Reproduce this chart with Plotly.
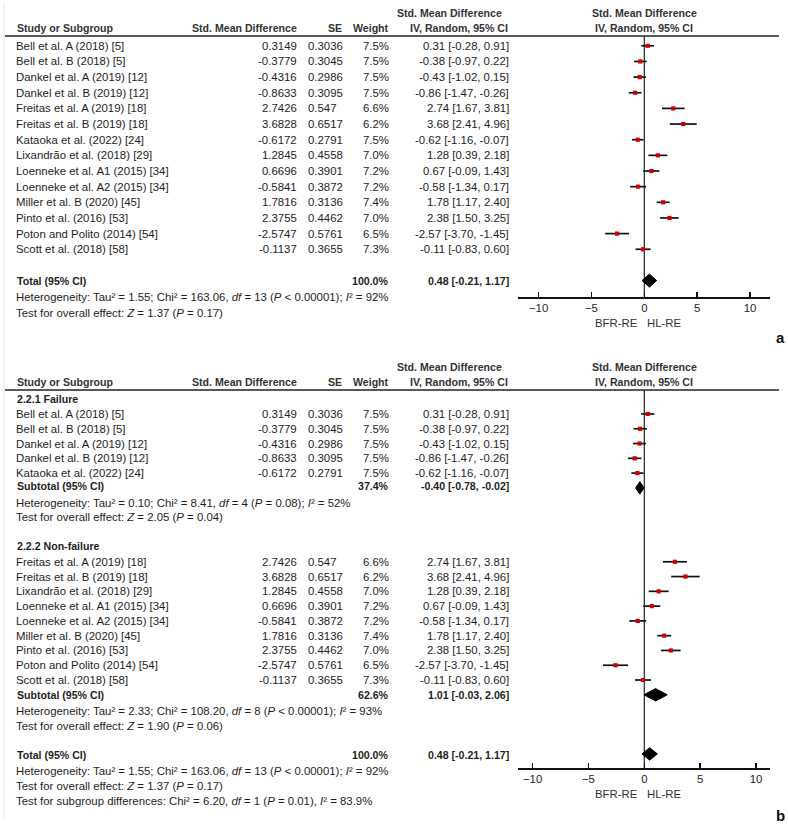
import plotly.graph_objects as go

W, H = 788, 824
FONT = "Liberation Sans, Arial, sans-serif"
FS = 11.4
FS_H = 10.6
TXT = "#1e1e1e"
HDR = "#333333"

# ---------------- data ----------------
studies = ["Bell et al. A (2018) [5]", "Bell et al. B (2018) [5]", "Dankel et al. A (2019) [12]",
           "Dankel et al. B (2019) [12]", "Freitas et al. A (2019) [18]", "Freitas et al. B (2019) [18]",
           "Kataoka et al. (2022) [24]", "Lixandrão et al. (2018) [29]", "Loenneke et al. A1 (2015) [34]",
           "Loenneke et al. A2 (2015) [34]", "Miller et al. B (2020) [45]", "Pinto et al. (2016) [53]",
           "Poton and Polito (2014) [54]", "Scott et al. (2018) [58]"]
smd = [0.3149, -0.3779, -0.4316, -0.8633, 2.7426, 3.6828, -0.6172, 1.2845, 0.6696, -0.5841,
       1.7816, 2.3755, -2.5747, -0.1137]
se = [0.3036, 0.3045, 0.2986, 0.3095, 0.547, 0.6517, 0.2791, 0.4558, 0.3901, 0.3872,
      0.3136, 0.4462, 0.5761, 0.3655]
weight = [7.5, 7.5, 7.5, 7.5, 6.6, 6.2, 7.5, 7.0, 7.2, 7.2, 7.4, 7.0, 6.5, 7.3]
ci_lo = [-0.28, -0.97, -1.02, -1.47, 1.67, 2.41, -1.16, 0.39, -0.09, -1.34, 1.17, 1.50, -3.70, -0.83]
ci_hi = [0.91, 0.22, 0.15, -0.26, 3.81, 4.96, -0.07, 2.18, 1.43, 0.17, 2.40, 3.25, -1.45, 0.60]

failure_idx = [0, 1, 2, 3, 6]
nonfailure_idx = [4, 5, 7, 8, 9, 10, 11, 12, 13]

# pooled: (estimate, lower, upper, weight)
total = (0.48, -0.21, 1.17, 100.0)
sub_failure = (-0.40, -0.78, -0.02, 37.4)
sub_nonfailure = (1.01, -0.03, 2.06, 62.6)

het_total = "Heterogeneity: Tau² = 1.55; Chi² = 163.06, <i>df</i> = 13 (<i>P</i> < 0.00001); <i>I</i>² = 92%"
eff_total = "Test for overall effect: <i>Z</i> = 1.37 (<i>P</i> = 0.17)"
het_fail = "Heterogeneity: Tau² = 0.10; Chi² = 8.41, <i>df</i> = 4 (<i>P</i> = 0.08); <i>I</i>² = 52%"
eff_fail = "Test for overall effect: <i>Z</i> = 2.05 (<i>P</i> = 0.04)"
het_nonf = "Heterogeneity: Tau² = 2.33; Chi² = 108.20, <i>df</i> = 8 (<i>P</i> < 0.00001); <i>I</i>² = 93%"
eff_nonf = "Test for overall effect: <i>Z</i> = 1.90 (<i>P</i> = 0.06)"
subgroup_diff = "Test for subgroup differences: Chi² = 6.20, <i>df</i> = 1 (<i>P</i> = 0.01), <i>I</i>² = 83.9%"
group_names = ["2.2.1 Failure", "2.2.2 Non-failure"]
tick_vals = [-10, -5, 0, 5, 10]
favours = ("BFR-RE", "HL-RE")

# ---------------- layout helpers ----------------
X_STUDY, X_SMD, X_SE, X_W, X_CI = 16, 297, 307.5, 389, 509
X_SE_H = 342
X_PLOT0, X_PLOT1, X_ZERO = 518, 770, 644.3

def py_a(i):
    return 45.8 + 15.65 * i

def py_b(i):
    return 399.2 + 14.78 * i

ann = []

def txt(x, py, s, anchor="left", bold=False, color=TXT, size=FS):
    if bold:
        s = "<b>" + s + "</b>"
    ann.append(dict(x=x / W, y=1 - py / H, xref="paper", yref="paper", text=s, showarrow=False,
                    xanchor=anchor, yanchor="middle", borderpad=0, borderwidth=0,
                    font=dict(family=FONT, size=size, color=color)))

def ci_str(e, lo, hi):
    return f"{e:.2f} [{lo:.2f}, {hi:.2f}]"

def header(line_py):
    txt(449.5, line_py - 23, "Std. Mean Difference", "center", True, HDR, FS_H)
    txt(459, line_py - 8, "IV, Random, 95% CI", "center", True, HDR, FS_H)
    txt(X_ZERO, line_py - 23, "Std. Mean Difference", "center", True, HDR, FS_H)
    txt(X_ZERO, line_py - 8, "IV, Random, 95% CI", "center", True, HDR, FS_H)
    txt(X_STUDY + 1, line_py - 8, "Study or Subgroup", "left", True, HDR, FS_H)
    txt(X_SMD, line_py - 8, "Std. Mean Difference", "right", True, HDR, FS_H)
    txt(X_SE_H, line_py - 8, "SE", "right", True, HDR, FS_H)
    txt(X_W, line_py - 8, "Weight", "right", True, HDR, FS_H)

def study_row(py, k):
    txt(X_STUDY, py, studies[k])
    txt(X_SMD, py, f"{smd[k]:.4f}", "right")
    txt(X_SE, py, f"{se[k]:g}", "left")
    txt(X_W, py, f"{weight[k]:.1f}%", "right")
    txt(X_CI, py, ci_str(smd[k], ci_lo[k], ci_hi[k]), "right")

def pooled_row(py, label, pooled):
    txt(X_STUDY + 1, py, label, "left", True, TXT, FS_H)
    txt(X_W, py, f"{pooled[3]:.1f}%", "right", True, TXT, FS_H)
    txt(X_CI, py, ci_str(*pooled[:3]), "right", True, TXT, FS_H)

fig = go.Figure()

def forest(xa, ya, rows, idx, diamonds, half_h):
    fig.add_trace(go.Scatter(
        x=[smd[k] for k in idx], y=rows, mode="markers", xaxis=xa, yaxis=ya,
        marker=dict(symbol="square", size=4.2, color="#d00000", line=dict(width=0)),
        error_x=dict(type="data", symmetric=False,
                     array=[ci_hi[k] - smd[k] for k in idx],
                     arrayminus=[smd[k] - ci_lo[k] for k in idx],
                     width=0, thickness=1.7, color="#111111"),
        showlegend=False, hoverinfo="skip"))
    for row, (e, lo, hi, _w) in diamonds:
        fig.add_trace(go.Scatter(
            x=[lo, e, hi, e, lo], y=[row, row - half_h, row, row + half_h, row],
            mode="lines", fill="toself", fillcolor="black", line=dict(color="black", width=1),
            xaxis=xa, yaxis=ya, showlegend=False, hoverinfo="skip"))

# ---------------- panel a ----------------
LINE_A, AXIS_A = 36, 297
header(LINE_A)
for k in range(len(studies)):
    study_row(py_a(k), k)
pooled_row(py_a(15), "Total (95% CI)", total)
txt(X_STUDY, py_a(16.05), het_total)
txt(X_STUDY, py_a(17.1), eff_total)
forest("x", "y", list(range(len(studies))), list(range(len(studies))), [(15, total)], 0.42)

# ---------------- panel b ----------------
LINE_B, AXIS_B = 390, 768
header(LINE_B)
txt(X_STUDY + 1, py_b(0), group_names[0], "left", True, TXT, FS_H)
for j, k in enumerate(failure_idx):
    study_row(py_b(1 + j), k)
pooled_row(py_b(5.85), "Subtotal (95% CI)", sub_failure)
txt(X_STUDY, py_b(7), het_fail)
txt(X_STUDY, py_b(8), eff_fail)
txt(X_STUDY + 1, py_b(9.95), group_names[1], "left", True, TXT, FS_H)
for j, k in enumerate(nonfailure_idx):
    study_row(py_b(11 + j), k)
pooled_row(py_b(20), "Subtotal (95% CI)", sub_nonfailure)
txt(X_STUDY, py_b(21.1), het_nonf)
txt(X_STUDY, py_b(22.1), eff_nonf)
pooled_row(py_b(24.1), "Total (95% CI)", total)
txt(X_STUDY, py_b(25.15), het_total)
txt(X_STUDY, py_b(26.15), eff_total)
txt(X_STUDY, py_b(27.2), subgroup_diff)
rows_b = [1 + j for j in range(len(failure_idx))] + [11 + j for j in range(len(nonfailure_idx))]
forest("x2", "y2", rows_b, failure_idx + nonfailure_idx,
       [(6, sub_failure), (20, sub_nonfailure), (24, total)], 0.42)

# favours labels & panel letters
for axis_py in (AXIS_A, AXIS_B):
    txt(X_ZERO - 6, axis_py + 26, favours[0], "right", False, HDR)
    txt(X_ZERO + 3, axis_py + 26, favours[1], "left", False, HDR)
txt(780, 338, "a", "center", True, "#111111", 15)
txt(780, 815, "b", "center", True, "#111111", 15)

def xaxis_cfg(rng):
    return dict(range=rng, domain=[X_PLOT0 / W, X_PLOT1 / W], tickvals=tick_vals,
                showline=True, linecolor="#111111", linewidth=1.5, ticks="inside", ticklen=5,
                tickwidth=1.5, tickcolor="#111111", showgrid=False, zeroline=False,
                tickfont=dict(family=FONT, size=FS, color=TXT), fixedrange=True)

def yaxis_cfg(rng, top_py, bot_py):
    return dict(range=rng, domain=[1 - bot_py / H, 1 - top_py / H], visible=False,
                showgrid=False, zeroline=False, fixedrange=True)

# row-index ranges so the plot area spans header line to axis line
ra = [(AXIS_A - 45.8) / 15.65, (LINE_A - 45.8) / 15.65]
rb = [(AXIS_B - 399.2) / 14.78, (LINE_B - 399.2) / 14.78]

shapes = []
for ln in (LINE_A, LINE_B):
    shapes.append(dict(type="line", xref="paper", yref="paper", x0=5 / W, x1=779 / W,
                       y0=1 - ln / H, y1=1 - ln / H, line=dict(color="#222222", width=1.5)))
for xr, yr in (("x", "y domain"), ("x2", "y2 domain")):
    shapes.append(dict(type="line", xref=xr, yref=yr, x0=0, x1=0, y0=0, y1=1,
                       line=dict(color="#222222", width=1.2), layer="below"))
shapes.append(dict(type="line", xref="paper", yref="paper", x0=4 / W, x1=4 / W, y0=1 - 2 / H,
                   y1=1 - 818 / H, line=dict(color="#e6e6e6", width=1)))

fig.update_layout(
    width=W, height=H, margin=dict(l=0, r=0, t=0, b=0),
    paper_bgcolor="white", plot_bgcolor="rgba(0,0,0,0)",
    xaxis=dict(xaxis_cfg([(X_PLOT0 - X_ZERO) / 10.57, (X_PLOT1 - X_ZERO) / 10.57]), anchor="y"),
    yaxis=dict(yaxis_cfg(ra, LINE_A, AXIS_A), anchor="x"),
    xaxis2=dict(xaxis_cfg([(X_PLOT0 - X_ZERO) / 11.17, (X_PLOT1 - X_ZERO) / 11.17]), anchor="y2"),
    yaxis2=dict(yaxis_cfg(rb, LINE_B, AXIS_B), anchor="x2"),
    annotations=ann, shapes=shapes, showlegend=False, hovermode=False,
)

fig.write_html("out.html", config={"displayModeBar": False, "staticPlot": True},
               post_script="document.body.style.margin='0';document.body.style.overflow='hidden';")
